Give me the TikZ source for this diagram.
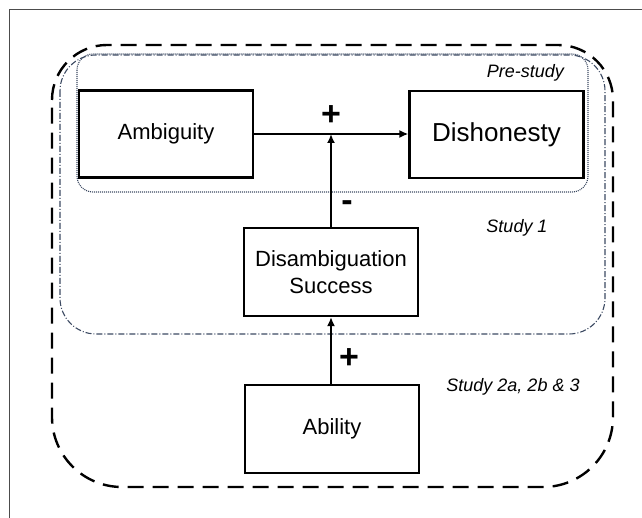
\documentclass[tikz,border=0pt]{standalone}
\usepackage{fontspec}
\setmainfont{Liberation Sans}
\usetikzlibrary{arrows.meta}
\definecolor{slate}{RGB}{60,74,98}
\tikzset{
  varbox/.style={draw=black, line width=2.2pt, inner sep=0pt, minimum width=174pt, minimum height=87pt, align=center, font=\fontsize{22}{27}\selectfont},
  studylabel/.style={font=\fontsize{18}{22}\selectfont\itshape, inner sep=0pt},
  signlabel/.style={font=\fontsize{34}{34}\selectfont\bfseries, inner sep=0pt},
  effect/.style={line width=2.5pt, -{Latex[length=9pt,width=8pt]}},
  outerzone/.style={draw=black, line width=2.4pt, dash pattern=on 16pt off 9pt},
  midzone/.style={draw=slate, line width=1.1pt, dash pattern=on 6pt off 2pt on 1pt off 2pt},
  innerzone/.style={draw=slate, line width=1.1pt, dash pattern=on 1pt off 1pt},
}
\begin{document}
\begin{tikzpicture}[x=1pt,y=-1pt]
\useasboundingbox (0,0) rectangle (642,518);
% frame
\draw[black!70, line width=1pt] (9.5,530) -- (9.5,9.5) -- (650,9.5);
% zones
\draw[outerzone] (52,100) arc (180:270:55) -- (558,45) arc (270:360:55)
  -- (613,417) arc (0:90:70) -- (122,487) arc (90:180:70) -- cycle;
\draw[midzone, rounded corners=36pt] (60,55) rectangle (605,334);
\draw[innerzone, rounded corners=16pt] (77,54) rectangle (588,192);
% labels
\node[studylabel, anchor=east] (lpre) at (564,73) {Pre-study};
\node[studylabel] (lst1) at (517,228) {Study 1};
\node[studylabel] (lst2) at (513,387) {Study 2a, 2b \& 3};
% variables
\node[varbox] (amb) at (166,134) {Ambiguity};
\node[varbox, font=\fontsize{26}{30}\selectfont] (dis) at (496.5,134.5) {Dishonesty};
\node[varbox, minimum height=88pt] (das) at (331,272) {Disambiguation\\Success};
\node[varbox, minimum height=88pt] (abl) at (332,429) {Ability};
% connectors
\draw[effect] (amb.east) -- (dis.west |- amb.east);
\coordinate (junction) at (das.north |- amb.east);
\draw[effect] (das.north) -- (junction);
\draw[effect] (abl.north -| das.south) -- (das.south);
% signs
\node[signlabel] (s1) at (331,116) {+};
\node[signlabel] (s2) at (347,206) {-};
\node[signlabel] (s3) at (349,359) {+};
\end{tikzpicture}
\end{document}
